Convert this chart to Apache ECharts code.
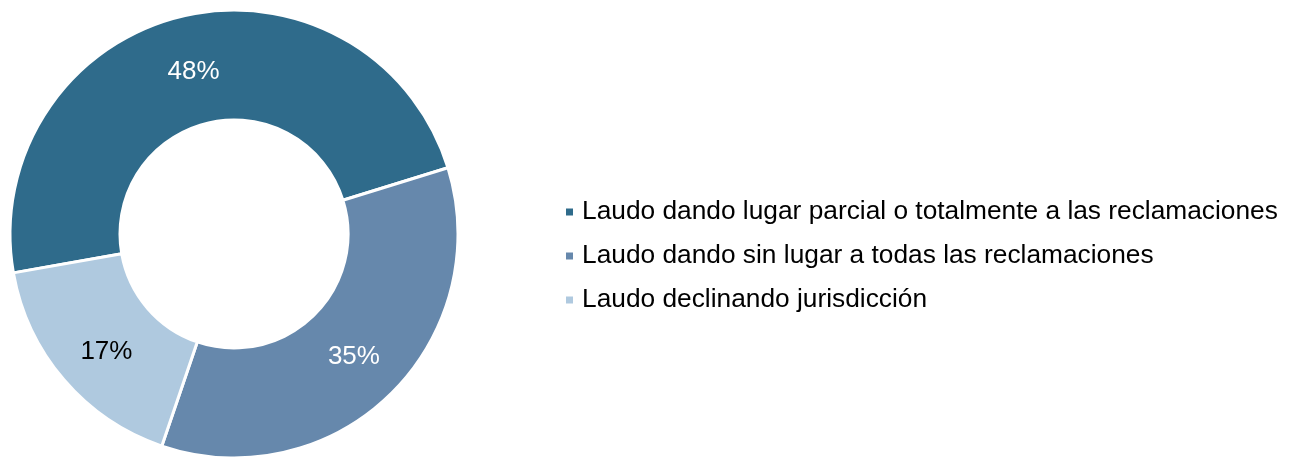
<!DOCTYPE html>
<html>
<head>
<meta charset="utf-8">
<script src="https://cdn.jsdelivr.net/npm/echarts@6/dist/echarts.min.js"></script>
<style>html,body{margin:0;padding:0;background:#fff}#c{width:1290px;height:457px}</style>
</head>
<body>
<div id="c"></div>
<script>
const categories = [
  'Laudo dando lugar parcial o totalmente a las reclamaciones',
  'Laudo dando sin lugar a todas las reclamaciones',
  'Laudo declinando jurisdicción'
];
const values = [48, 35, 17];
const colors = ['#2F6B8B', '#6688AC', '#AFC9DF'];
const labelColors = ['#ffffff', '#ffffff', '#000000'];
const labelOffsets = [[0, 5], [0, 0], [3, 6]];

const chart = echarts.init(document.getElementById('c'));
chart.setOption({
  animation: false,
  color: colors,
  legend: {
    orient: 'vertical',
    left: 566,
    top: 199,
    padding: 0,
    icon: 'rect',
    itemWidth: 7,
    itemHeight: 7,
    itemGap: 18,
    itemStyle: { borderWidth: 0 },
    textStyle: { fontFamily: 'Liberation Sans, Arial', fontSize: 26.3, color: '#000', padding: [0, 0, 0, 4] },
    data: categories
  },
  series: [{
    type: 'pie',
    center: [234, 234],
    radius: [114, 224],
    startAngle: 190,
    clockwise: true,
    itemStyle: { borderColor: '#fff', borderWidth: 3 },
    label: {
      position: 'inside',
      fontFamily: 'Liberation Sans, Arial',
      fontSize: 26,
      formatter: '{c}%'
    },
    labelLine: { show: false },
    data: categories.map((n, i) => ({
      name: n, value: values[i],
      label: { color: labelColors[i], offset: labelOffsets[i] }
    }))
  }]
});
</script>
</body>
</html>
